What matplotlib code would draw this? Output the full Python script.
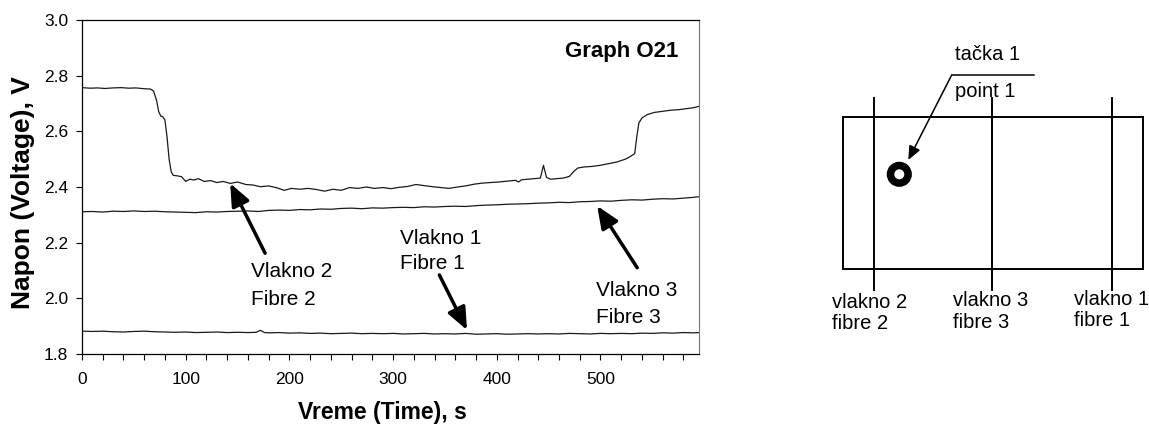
import numpy as np
import matplotlib
matplotlib.use("Agg")
import matplotlib.pyplot as plt
from matplotlib.ticker import MultipleLocator
from matplotlib.patches import Rectangle, Circle

plt.rcParams['font.family'] = ['Liberation Sans', 'DejaVu Sans']

# fibre 2 (upper curve)
t_f2 = [0, 8, 15, 22, 30, 38, 45, 52, 60, 66, 69, 72, 74, 76, 78, 80, 82, 84, 86, 88,
        92, 96, 100, 104, 108, 112, 118, 124, 130, 136, 143, 150, 158, 165, 172, 180,
        188, 195, 202, 210, 218, 226, 234, 242, 250, 258, 266, 274, 282, 290, 298, 306,
        314, 322, 330, 338, 346, 354, 362, 370, 378, 386, 394, 402, 410, 418, 421, 424,
        430, 436, 442, 445, 448, 452, 458, 464, 470, 474, 478, 484, 492, 500, 508, 516,
        524, 528, 531, 533, 535, 537, 540, 545, 552, 560, 568, 576, 584, 590, 595]
v_f2 = [2.757, 2.755, 2.756, 2.754, 2.756, 2.757, 2.755, 2.756, 2.753, 2.752, 2.745, 2.71,
        2.67, 2.655, 2.652, 2.64, 2.58, 2.50, 2.455, 2.442, 2.440, 2.437, 2.420, 2.428,
        2.425, 2.430, 2.420, 2.423, 2.416, 2.420, 2.413, 2.418, 2.409, 2.407, 2.401, 2.404,
        2.397, 2.388, 2.395, 2.392, 2.395, 2.391, 2.385, 2.392, 2.388, 2.398, 2.395, 2.400,
        2.395, 2.398, 2.394, 2.399, 2.402, 2.409, 2.405, 2.401, 2.398, 2.395, 2.400, 2.404,
        2.410, 2.414, 2.416, 2.418, 2.421, 2.424, 2.418, 2.426, 2.428, 2.430, 2.432, 2.478,
        2.434, 2.428, 2.430, 2.432, 2.438, 2.455, 2.468, 2.472, 2.474, 2.478, 2.484, 2.490,
        2.500, 2.508, 2.515, 2.520, 2.580, 2.630, 2.648, 2.660, 2.668, 2.672, 2.676, 2.678,
        2.682, 2.685, 2.690]

# fibre 3 (middle curve)
t_f3 = [0, 10, 20, 30, 40, 50, 60, 70, 80, 90, 100, 110, 120, 130, 140, 150, 160, 170,
        180, 190, 200, 210, 220, 230, 240, 250, 260, 270, 280, 290, 300, 310, 320, 330,
        340, 350, 360, 370, 380, 390, 400, 410, 420, 430, 440, 450, 460, 470, 480, 490,
        500, 510, 520, 530, 540, 550, 560, 570, 580, 590, 595]
v_f3 = [2.311, 2.312, 2.310, 2.313, 2.312, 2.314, 2.312, 2.313, 2.311, 2.310, 2.309, 2.308,
        2.311, 2.310, 2.312, 2.313, 2.314, 2.312, 2.316, 2.317, 2.316, 2.319, 2.318, 2.321,
        2.320, 2.323, 2.324, 2.322, 2.325, 2.324, 2.326, 2.327, 2.326, 2.329, 2.328, 2.330,
        2.331, 2.330, 2.333, 2.335, 2.336, 2.338, 2.339, 2.340, 2.342, 2.343, 2.345, 2.344,
        2.347, 2.348, 2.350, 2.349, 2.352, 2.354, 2.353, 2.356, 2.358, 2.357, 2.360, 2.363,
        2.365]

# fibre 1 (lower curve)
t_f1 = [0, 10, 20, 30, 40, 50, 60, 70, 80, 90, 100, 110, 120, 130, 140, 150, 160, 168,
        172, 176, 180, 190, 200, 210, 220, 230, 240, 250, 260, 270, 280, 290, 300, 310,
        320, 330, 340, 350, 360, 370, 380, 390, 400, 410, 420, 430, 440, 450, 460, 470,
        480, 490, 500, 510, 520, 530, 540, 550, 560, 570, 580, 590, 595]
v_f1 = [1.882, 1.881, 1.882, 1.880, 1.879, 1.881, 1.882, 1.880, 1.879, 1.878, 1.879, 1.877,
        1.878, 1.879, 1.877, 1.878, 1.877, 1.878, 1.885, 1.877, 1.876, 1.877, 1.875, 1.876,
        1.874, 1.875, 1.873, 1.874, 1.875, 1.873, 1.874, 1.873, 1.874, 1.872, 1.873, 1.874,
        1.872, 1.873, 1.872, 1.874, 1.871, 1.872, 1.873, 1.871, 1.872, 1.873, 1.872, 1.873,
        1.872, 1.874, 1.873, 1.872, 1.874, 1.873, 1.874, 1.873, 1.875, 1.874, 1.876, 1.875,
        1.877, 1.876, 1.877]

curve_labels = ["Vlakno 2\nFibre 2", "Vlakno 1\nFibre 1", "Vlakno 3\nFibre 3"]
diagram_labels = ["vlakno 2\nfibre 2", "vlakno 3\nfibre 3", "vlakno 1\nfibre 1"]

fig = plt.figure(figsize=(11.49, 4.26), dpi=100)
ax = fig.add_axes([82 / 1149, 1 - 354 / 426, 617 / 1149, 334 / 426])

for t, v in [(t_f2, v_f2), (t_f3, v_f3), (t_f1, v_f1)]:
    ax.plot(t, v, color='#1a1a1a', lw=0.9)

ax.set_xlim(0, 595)
ax.set_ylim(1.8, 3.0)
ax.xaxis.set_major_locator(MultipleLocator(100))
ax.xaxis.set_minor_locator(MultipleLocator(20))
ax.yaxis.set_major_locator(MultipleLocator(0.2))
ax.yaxis.set_major_formatter(matplotlib.ticker.FormatStrFormatter('%.1f'))
ax.tick_params(which='both', direction='out', length=4, width=0.8, labelsize=12.5)
ax.tick_params(axis='x', which='both', pad=9)
ax.tick_params(axis='y', pad=6)
for s in ['left', 'bottom', 'top']:
    ax.spines[s].set_linewidth(0.9)
ax.spines['right'].set_color('#777777')

ax.set_xlabel("Vreme (Time), s", fontsize=16.5, fontweight='bold')
ax.xaxis.set_label_coords((382 - 82) / 617, (354 - 413) / 334)
ax.xaxis.label.set_va('center')
ax.set_ylabel("Napon (Voltage), V", fontsize=19, fontweight='bold')
ax.yaxis.set_label_coords((23 - 82) / 617, (354 - 193) / 334)
ax.yaxis.label.set_va('center')

ax.text(0.783, 0.905, "Graph O21", transform=ax.transAxes, fontsize=16,
        fontweight='bold', ha='left', va='center')

aprops = dict(arrowstyle='-|>,head_length=0.9,head_width=0.38', lw=2.5, color='k',
              mutation_scale=15, shrinkA=0, shrinkB=0)
ax.annotate("", xy=(142.9, 2.413), xytext=(176.6, 2.162), arrowprops=aprops)
ax.annotate("", xy=(371.3, 1.886), xytext=(344.6, 2.084), arrowprops=aprops)
ax.annotate("", xy=(496.8, 2.332), xytext=(535.4, 2.110), arrowprops=aprops)

ax.text(163.1, 2.046, curve_labels[0], fontsize=15, ha='left', va='center', linespacing=1.55)
ax.text(307.0, 2.171, curve_labels[1], fontsize=15, ha='left', va='center', linespacing=1.4)
ax.text(495.2, 1.979, curve_labels[2], fontsize=15, ha='left', va='center', linespacing=1.55)

# schematic of the sample on the right (pixel coordinates)
d = fig.add_axes([0, 0, 1, 1], facecolor='none')
d.set_xlim(0, 1149)
d.set_ylim(426, 0)
d.axis('off')

d.add_patch(Rectangle((843.3, 116.7), 299.5, 152.3, fill=False, lw=1.4, ec='k'))
for xf in [874.2, 991.5, 1112.3]:
    d.plot([xf, xf], [98, 290], color='k', lw=1.4)
d.add_patch(Circle((899.3, 174.3), 8.8, fill=False, lw=5.4, ec='k'))
d.plot([951.7, 1034], [75, 75], color='k', lw=1.1)
d.annotate("", xy=(908.3, 160), xytext=(951.7, 75),
           arrowprops=dict(arrowstyle='-|>,head_length=0.7,head_width=0.3', lw=1.1,
                           color='k', mutation_scale=12, shrinkA=0, shrinkB=0))
d.text(955, 55, "tačka 1", fontsize=14.5, ha='left', va='center')
d.text(955, 91.7, "point 1", fontsize=14.5, ha='left', va='center')
for xl, yl, lab in zip([831.7, 953.3, 1074], [313.3, 311.5, 310], diagram_labels):
    d.text(xl, yl, lab, fontsize=14.5, ha='left', va='center', linespacing=1.15)

fig.savefig("out.png", dpi=100)
